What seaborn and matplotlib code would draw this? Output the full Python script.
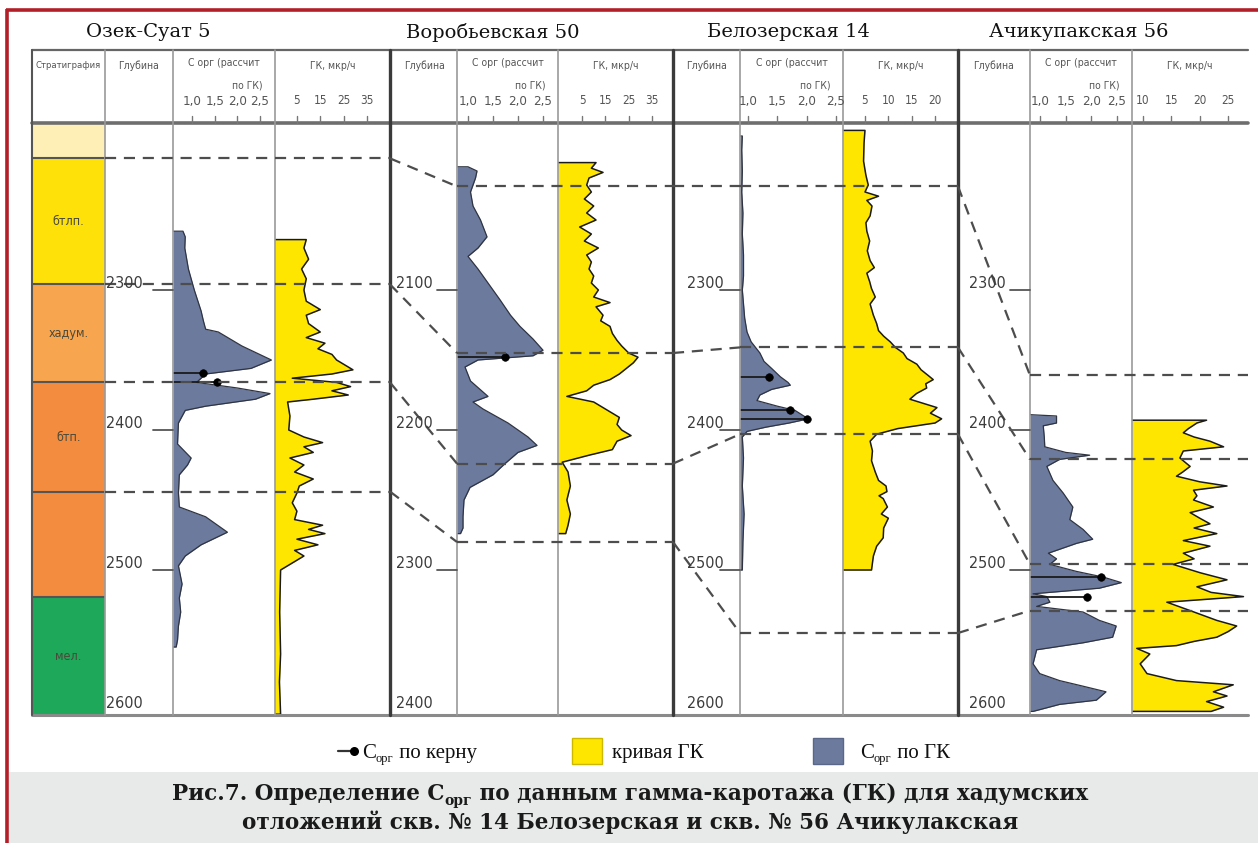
import pandas as pd
import matplotlib
matplotlib.use("Agg")
import matplotlib.pyplot as plt
from matplotlib.patches import Rectangle
import seaborn as sns

W, H = 1258, 843

# ---------------- data ----------------
well_names = ["Озек-Суат 5", "Воробьевская 50", "Белозерская 14", "Ачикупакская 56"]

depth_ticks = [[2300, 2400, 2500, 2600], [2100, 2200, 2300, 2400],
               [2300, 2400, 2500, 2600], [2300, 2400, 2500, 2600]]
corg_ticks = [1.0, 1.5, 2.0, 2.5]
corg_tick_labels = ["1,0", "1,5", "2,0", "2,5"]
gk_ticks = [[5, 15, 25, 35], [5, 15, 25, 35], [5, 10, 15, 20], [10, 15, 20, 25]]

strat_labels = ["", "бтлп.", "хадум.", "бтп.", "", "мел."]
strat_top = [2181, 2206, 2296, 2366, 2444, 2519]
strat_base = [2206, 2296, 2366, 2444, 2519, 2604]
strat_colors = ["#FDEFB6", "#FFE10A", "#F7A54E", "#F48C3F", "#F48C3F", "#1EA85A"]

# correlation horizons (depth in each well)
horizons = [[2206, 2296, 2366, 2444], [2026, 2145, 2224, 2280],
            [2226, 2341, 2403, 2545], [2361, 2421, 2496, 2529]]

# Озек-Суат 5
w1_corg_d = [2258, 2262, 2270, 2285, 2300, 2315, 2322, 2328, 2330, 2340, 2350, 2356, 2360, 2366,
             2370, 2374, 2378, 2383, 2386, 2395, 2410, 2420, 2425, 2432, 2445, 2455, 2462, 2473,
             2482, 2490, 2497, 2510, 2520, 2530, 2540, 2550, 2555]
w1_corg = [0.80, 0.85, 0.84, 0.92, 1.05, 1.2, 1.25, 1.3, 1.58, 2.1, 2.75, 2.3, 1.3, 1.1,
           2.0, 2.72, 2.4, 1.3, 0.85, 0.70, 0.68, 0.98, 0.9, 0.72, 0.70, 0.72, 1.3, 1.78,
           1.2, 0.85, 0.70, 0.78, 0.72, 0.75, 0.70, 0.68, 0.65]
w1_gk_d = [2264, 2270, 2278, 2285, 2292, 2300, 2308, 2314, 2318, 2324, 2330, 2334, 2338, 2342,
           2346, 2350, 2354, 2357, 2360, 2363, 2366, 2369, 2372, 2375, 2378, 2380, 2390, 2400,
           2405, 2409, 2412, 2416, 2420, 2425, 2430, 2435, 2440, 2445, 2452, 2458, 2464, 2468,
           2471, 2474, 2478, 2482, 2486, 2490, 2494, 2500, 2530, 2560, 2580, 2603]
w1_gk = [9, 8, 10, 7, 9, 8, 9, 15, 9, 10, 15, 9, 17, 14,
         20, 22, 26, 29, 20, 3, 22, 28, 20, 27, 12, 1, 2, 1.5,
         8, 16, 8, 12, 2, 8, 4, 12, 6, 5, 3, 5, 4, 16,
         10, 17, 5, 14, 4, 8, 4, -2, -2.4, -2, -2.5, -2]
w1_core_d = [2359, 2366]
w1_core = [1.25, 1.55]

# Воробьевская 50
w2_corg_d = [2012, 2015, 2020, 2030, 2040, 2050, 2062, 2070, 2076, 2085, 2095, 2107, 2118, 2126,
             2135, 2143, 2147, 2150, 2155, 2165, 2176, 2180, 2185, 2195, 2205, 2211, 2216, 2224,
             2232, 2241, 2250, 2262, 2270, 2274]
w2_corg = [1.0, 1.18, 1.15, 1.05, 1.1, 1.25, 1.38, 1.2, 1.0, 1.2, 1.4, 1.64, 1.85, 2.04,
           2.3, 2.5, 2.3, 1.2, 0.94, 1.05, 1.4, 1.1, 1.3, 1.8, 2.2, 2.38, 2.0, 1.74,
           1.5, 1.04, 0.92, 0.9, 0.9, 0.85]
w2_gk_d = [2009, 2013, 2016, 2020, 2025, 2030, 2035, 2040, 2045, 2050, 2055, 2060, 2065, 2070,
           2075, 2080, 2085, 2090, 2095, 2100, 2105, 2109, 2112, 2118, 2122, 2126, 2131, 2136,
           2140, 2145, 2148, 2152, 2156, 2160, 2164, 2168, 2172, 2176, 2180, 2186, 2191, 2196,
           2200, 2204, 2208, 2214, 2218, 2223, 2230, 2240, 2250, 2260, 2268, 2274]
w2_gk = [11, 9, 14, 8, 7, 9, 6, 10, 7, 11, 4, 9, 6, 12,
         7, 9, 8, 10, 9, 12, 10, 17, 11, 14, 13, 17, 18, 20,
         22, 25, 29, 27, 24, 21, 17, 10, 7, -1.5, 10, 16, 21, 20,
         22, 26, 20, 18, 8, -3.5, -1, 0, -1.5, 0, -1, -2]
w2_core_d = [2148]
w2_core = [1.74]

# Белозерская 14
w3_corg_d = [2190, 2200, 2215, 2230, 2245, 2260, 2275, 2290, 2300, 2310, 2320, 2330, 2337, 2345,
             2351, 2356, 2362, 2366, 2368, 2371, 2375, 2379, 2383, 2386, 2390, 2392, 2395, 2398,
             2401, 2405, 2420, 2440, 2460, 2480, 2500]
w3_corg = [0.90, 0.89, 0.90, 0.89, 0.91, 0.90, 0.92, 0.92, 0.90, 0.92, 0.94, 0.98, 1.05, 1.2,
           1.27, 1.4, 1.55, 1.68, 1.72, 1.4, 1.2, 1.15, 1.5, 1.8, 1.95, 2.03, 1.7, 1.3,
           0.98, 0.9, 0.92, 0.90, 0.93, 0.91, 0.90]
w3_gk_d = [2186, 2195, 2208, 2218, 2225, 2230, 2233, 2236, 2240, 2247, 2252, 2258, 2265, 2272,
           2279, 2284, 2288, 2294, 2299, 2305, 2310, 2318, 2324, 2329, 2333, 2337, 2341, 2345,
           2349, 2353, 2357, 2361, 2364, 2367, 2370, 2374, 2378, 2381, 2384, 2388, 2392, 2395,
           2399, 2403, 2408, 2415, 2422, 2430, 2436, 2440, 2444, 2447, 2449, 2455, 2460, 2463,
           2470, 2477, 2483, 2490, 2500]
w3_gk = [5.0, 4.8, 4.7, 5.2, 5.7, 5.0, 7.9, 5.4, 6.5, 6.1, 5.2, 5.4, 6.0, 5.5,
         6.1, 7.0, 5.4, 6.0, 6.4, 7.2, 6.1, 6.8, 7.5, 7.9, 9.0, 10.4, 11.5, 13.2,
         14.0, 16.1, 17.0, 18.5, 19.6, 18.0, 18.2, 16.0, 14.6, 17.5, 20.4, 19.0, 21.4, 20.0,
         12.0, 7.5, 6.1, 6.6, 6.4, 7.2, 7.9, 9.5, 9.7, 8.0, 8.9, 9.8, 8.5, 10.0,
         9.0, 8.9, 7.5, 6.8, 6.4]
w3_core_d = [2362, 2386, 2392]
w3_core = [1.35, 1.72, 2.0]

# Ачикупакская 56
w4_corg_d = [2389, 2390, 2395, 2397, 2405, 2412, 2416, 2418, 2421, 2426, 2436, 2445, 2455, 2464,
             2471, 2478, 2481, 2488, 2492, 2496, 2501, 2505, 2509, 2513, 2517, 2519, 2523, 2526,
             2530, 2536, 2540, 2548, 2552, 2557, 2567, 2574, 2579, 2583, 2587, 2593, 2596, 2601]
w4_corg = [0.77, 1.32, 1.32, 1.06, 1.08, 1.09, 1.5, 1.97, 1.38, 1.13, 1.25, 1.45, 1.64, 1.58,
           1.84, 2.03, 1.71, 1.16, 1.32, 1.19, 1.71, 2.23, 2.59, 2.16, 0.86, 1.13, 1.19, 0.93,
           1.84, 2.16, 2.49, 2.42, 1.84, 0.93, 0.86, 0.99, 1.38, 1.84, 2.29, 2.10, 1.38, 0.86]
w4_gk_d = [2393, 2395, 2399, 2402, 2405, 2408, 2412, 2415, 2420, 2426, 2430, 2433, 2437, 2440,
           2443, 2447, 2450, 2455, 2459, 2463, 2467, 2470, 2474, 2479, 2483, 2488, 2492, 2496,
           2502, 2507, 2512, 2516, 2519, 2523, 2529, 2536, 2540, 2544, 2548, 2551, 2554, 2556,
           2560, 2567, 2574, 2579, 2582, 2587, 2590, 2594, 2598, 2601]
w4_gk = [21.2, 19.5, 18.0, 17.1, 19.0, 21.8, 24.2, 17.1, 16.5, 18.3, 17.0, 15.9, 20.0, 24.8,
         18.9, 19.5, 18.9, 22.4, 18.3, 20.0, 21.8, 19.0, 23.0, 17.1, 21.8, 17.1, 19.0, 15.3,
         20.1, 24.8, 19.5, 22.0, 27.7, 14.2, 18.3, 23.0, 26.5, 25.0, 23.0, 19.0, 15.9, 8.9,
         11.2, 9.5, 10.7, 15.9, 25.9, 22.4, 24.8, 21.2, 24.2, 22.0]
w4_core_d = [2505, 2519]
w4_core = [2.2, 1.91]

corg_logs = [(w1_corg_d, w1_corg), (w2_corg_d, w2_corg), (w3_corg_d, w3_corg), (w4_corg_d, w4_corg)]
gk_logs = [(w1_gk_d, w1_gk), (w2_gk_d, w2_gk), (w3_gk_d, w3_gk), (w4_gk_d, w4_gk)]
core_pts = [(w1_core_d, w1_core), (w2_core_d, w2_core), (w3_core_d, w3_core), (w4_core_d, w4_core)]

# ---------------- layout ----------------
TOP, HEAD, BOT = 50, 123, 715
col_x = [(105, 173, 275, 390), (392, 457, 558, 673), (673, 740, 843, 958), (958, 1030, 1132, 1248)]
ref_depth = [2300, 2100, 2300, 2300]
ref_y, px_per_m = 290, 1.4
corg_lim = [(0.58, 2.83), (0.78, 2.8), (0.86, 2.62), (0.80, 2.8)]
gk_lim = [(-4.4, 44.9), (-5.3, 44.0), (0.3, 24.9), (8.06, 28.5)]
name_x = [148, 493, 788, 1079]
label_x = [124, 414, 705, 987]

BLUE = "#6C7A9E"
YELLOW = "#FFE600"
SANS = ["DejaVu Sans"]
SERIF = ["DejaVu Serif"]

sns.set_theme(style="white")
plt.rcParams["font.family"] = ["DejaVu Sans"]

fig = plt.figure(figsize=(W / 100, H / 100), dpi=100)
fig.patch.set_facecolor("white")


def track_limits(well):
    d0 = ref_depth[well] - (ref_y - HEAD) / px_per_m
    d1 = ref_depth[well] + (BOT - ref_y) / px_per_m
    return d1, d0


def add_track(x0, x1):
    ax = fig.add_axes([x0 / W, 1 - BOT / H, (x1 - x0) / W, (BOT - HEAD) / H])
    ax.axis("off")
    ax.patch.set_alpha(0)
    return ax


def draw_log(ax, depth, vals, face, edge, lw):
    lo = ax.get_xlim()[0]
    ax.fill_betweenx(depth, lo, vals, color=face, lw=0, zorder=2)
    outline = pd.DataFrame({"v": [lo] + list(vals) + [lo],
                            "d": [depth[0]] + list(depth) + [depth[-1]]})
    sns.lineplot(data=outline, x="v", y="d", sort=False, estimator=None,
                 ax=ax, color=edge, lw=lw, zorder=3)


# stratigraphy column
ax_s = add_track(32, 105)
for top, base, col, lab in zip(strat_top, strat_base, strat_colors, strat_labels):
    ax_s.axhspan(top, base, color=col, lw=0)
    if lab:
        ax_s.text(0.5, (top + base) / 2, lab, ha="center", va="center",
                  fontsize=9, color="#4a4a3a", family=SANS, stretch="condensed")
for top in strat_top[1:]:
    ax_s.axhline(top, color="#555555", lw=1.5)
ax_s.set_xlim(0, 1)
ax_s.set_ylim(*track_limits(0))

tracks = []
for i in range(4):
    dl, cl, gl, rr = col_x[i]
    ax_c = add_track(cl, gl)
    ax_g = add_track(gl, rr)
    for ax, lim in ((ax_c, corg_lim[i]), (ax_g, gk_lim[i])):
        ax.set_xlim(*lim)
        ax.set_ylim(*track_limits(i))
    d, v = corg_logs[i]
    draw_log(ax_c, d, v, BLUE, "#2f3440", 0.9)
    d, v = gk_logs[i]
    draw_log(ax_g, d, v, YELLOW, "#1a1a1a", 1.1)
    cd, cv = core_pts[i]
    ax_c.hlines(cd, corg_lim[i][0], cv, color="#1a1a1a", lw=1.3, zorder=5)
    sns.scatterplot(x=cv, y=cd, ax=ax_c, color="black", s=30, zorder=6, edgecolor="black")
    for ax, lim in ((ax_c, corg_lim[i]), (ax_g, gk_lim[i])):
        ax.set_xlim(*lim)
        ax.set_ylim(*track_limits(i))
        ax.set_xlabel("")
        ax.set_ylabel("")
        ax.axis("off")
    tracks.append((ax_c, ax_g))

# overlay in pixel coordinates
ov = fig.add_axes([0, 0, 1, 1])
ov.set_xlim(0, W)
ov.set_ylim(H, 0)
ov.axis("off")
ov.patch.set_alpha(0)


def ypx(ax, d):
    return H - ax.transData.transform((ax.get_xlim()[0], d))[1]


def xpx(ax, v):
    return ax.transData.transform((v, ax.get_ylim()[0]))[0]


renderer = fig.canvas.get_renderer()


def text_runs(x, y, runs, ha="center", **kw):
    objs, widths = [], []
    for s, size, dy in runs:
        t = ov.text(0, y + dy, s, fontsize=size, va="baseline", ha="left", **kw)
        widths.append(t.get_window_extent(renderer).width)
        objs.append(t)
    cur = x - sum(widths) / 2 if ha == "center" else x
    for t, w in zip(objs, widths):
        t.set_x(cur)
        cur += w


# red frame and caption box
ov.add_patch(Rectangle((9, 772), W - 9, H - 772, color="#E8EAEA", lw=0, zorder=0))
ov.plot([7, 7], [9, H], color="#B21F28", lw=2.6, solid_capstyle="butt")
ov.plot([6, W], [10, 10], color="#B21F28", lw=2.6, solid_capstyle="butt")

# grid of the panel
ov.plot([32, 1248], [TOP, TOP], color="#666666", lw=1.6)
ov.plot([32, 1248], [HEAD, HEAD], color="#6e6e6e", lw=2.6)
ov.plot([32, 1248], [BOT, BOT], color="#8a8a8a", lw=2.2)
ov.plot([32, 32], [TOP, BOT], color="#555555", lw=1.5)
for x in [105, 173, 275, 457, 558, 740, 843, 1030, 1132]:
    ov.plot([x, x], [TOP, BOT], color="#9a9a9a", lw=1.2)
for x in [390, 673, 958]:
    ov.plot([x, x], [TOP, BOT], color="#3a3a3a", lw=2.4)

# correlation lines
dash = dict(color="#4d4d4d", lw=1.6, ls=(0, (5, 3.5)))
for i in range(4):
    ax_c = tracks[i][0]
    dl, cl, gl, rr = col_x[i]
    for k, d in enumerate(horizons[i]):
        y = ypx(ax_c, d)
        if i == 0:
            ov.plot([dl, rr], [y, y], **dash)
        else:
            yp = ypx(tracks[i - 1][0], horizons[i - 1][k])
            ov.plot([col_x[i - 1][3], cl], [yp, y], **dash)
            ov.plot([cl, rr], [y, y], **dash)

# depth labels
for i in range(4):
    ax_c = tracks[i][0]
    dl, cl, gl, rr = col_x[i]
    for j, d in enumerate(depth_ticks[i]):
        y = ypx(ax_c, d)
        if j < len(depth_ticks[i]) - 1:
            ov.plot([cl - 20, cl], [y, y], color="#555555", lw=1.3)
        ov.text(label_x[i], y - 7, str(d), ha="center", va="center", fontsize=11.5,
                color="#3c3c3c", family=SANS, stretch="condensed")

# header
hdr = dict(ha="center", va="center", color="#555555", family=SANS, stretch="condensed")
for i in range(4):
    ax_c, ax_g = tracks[i]
    dl, cl, gl, rr = col_x[i]
    ov.text(name_x[i], 32, well_names[i], ha="center", va="center", fontsize=14,
            color="#111111", family=SERIF)
    ov.text((dl + cl) / 2, 66, "Глубина", fontsize=7.5, **hdr)
    ov.text((cl + gl) / 2, 63, "С орг (рассчит", fontsize=7.5, **hdr)
    ov.text(gl - 28, 85, "по ГК)", fontsize=7.5, **hdr)
    ov.text((gl + rr) / 2, 66, "ГК, мкр/ч", fontsize=7.5, **hdr)
    for v, lab in zip(corg_ticks, corg_tick_labels):
        x = xpx(ax_c, v)
        ov.plot([x, x], [HEAD - 7, HEAD], color="#777777", lw=1)
        ov.text(x, 101, lab, fontsize=9.5, **hdr)
    for v in gk_ticks[i]:
        x = xpx(ax_g, v)
        ov.plot([x, x], [HEAD - 7, HEAD], color="#777777", lw=1)
        ov.text(x, 101, str(v), fontsize=8.5, **hdr)
ov.text(68, 66, "Стратиграфия", fontsize=6.8, **hdr)

# legend
LEG_SERIF = ["Liberation Serif", "DejaVu Serif"]
ov.plot([338, 354], [751, 751], color="#333333", lw=1.6)
ov.scatter([354], [751], s=30, color="black", zorder=5)
text_runs(362, 758, [("С", 15, 0), ("орг", 9, 4), (" по керну", 15, 0)], ha="left",
          family=LEG_SERIF, color="#111111")
ov.add_patch(Rectangle((572, 738), 30, 26, facecolor=YELLOW, edgecolor="#CDB800", lw=1))
ov.text(612, 758, "кривая ГК", fontsize=15, va="baseline", ha="left", family=LEG_SERIF,
        color="#111111")
ov.add_patch(Rectangle((813, 738), 30, 26, facecolor=BLUE, edgecolor="#5b6788", lw=1))
text_runs(860, 758, [("С", 15, 0), ("орг", 9, 4), (" по ГК", 15, 0)], ha="left",
          family=LEG_SERIF, color="#111111")

# caption
cap = dict(family=SERIF, weight="bold", color="#1a1a1a")
text_runs(630, 800, [("Рис.7. Определение C", 15.5, 0), ("орг", 10, 5),
                     (" по данным гамма-каротажа (ГК) для хадумских", 15.5, 0)], **cap)
text_runs(630, 829, [("отложений скв. № 14 Белозерская и скв. № 56 Ачикулакская", 15.5, 0)], **cap)

fig.savefig("out.png", dpi=100)
